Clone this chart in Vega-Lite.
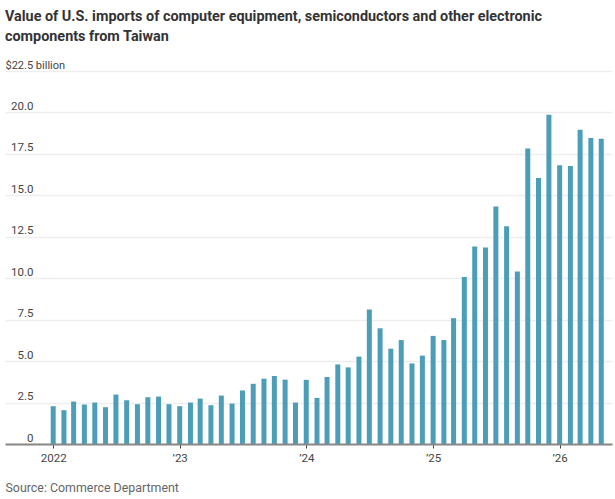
{
  "$schema": "https://vega.github.io/schema/vega-lite/v6.json",
  "description": "U.S. imports from Taiwan",
  "autosize": {"type": "none"},
  "padding": {"left": 5, "top": 71, "right": 3, "bottom": 55},
  "width": 607,
  "height": 373,
  "background": "white",
  "title": {
    "text": ["Value of U.S. imports of computer equipment, semiconductors and other electronic", "components from Taiwan"],
    "anchor": "start",
    "frame": "group",
    "font": "Roboto",
    "fontSize": 14.4,
    "fontWeight": 700,
    "color": "#333333",
    "lineHeight": 20,
    "offset": 15
  },
  "data": {
    "values": [
      {"month": "2022-01-01", "value": 2.28},
      {"month": "2022-02-01", "value": 2.04},
      {"month": "2022-03-01", "value": 2.56},
      {"month": "2022-04-01", "value": 2.38},
      {"month": "2022-05-01", "value": 2.5},
      {"month": "2022-06-01", "value": 2.22},
      {"month": "2022-07-01", "value": 2.98},
      {"month": "2022-08-01", "value": 2.64},
      {"month": "2022-09-01", "value": 2.4},
      {"month": "2022-10-01", "value": 2.82},
      {"month": "2022-11-01", "value": 2.86},
      {"month": "2022-12-01", "value": 2.4},
      {"month": "2023-01-01", "value": 2.28},
      {"month": "2023-02-01", "value": 2.5},
      {"month": "2023-03-01", "value": 2.74},
      {"month": "2023-04-01", "value": 2.34},
      {"month": "2023-05-01", "value": 2.92},
      {"month": "2023-06-01", "value": 2.44},
      {"month": "2023-07-01", "value": 3.23},
      {"month": "2023-08-01", "value": 3.63},
      {"month": "2023-09-01", "value": 3.94},
      {"month": "2023-10-01", "value": 4.1},
      {"month": "2023-11-01", "value": 3.88},
      {"month": "2023-12-01", "value": 2.5},
      {"month": "2024-01-01", "value": 3.87},
      {"month": "2024-02-01", "value": 2.78},
      {"month": "2024-03-01", "value": 4.04},
      {"month": "2024-04-01", "value": 4.8},
      {"month": "2024-05-01", "value": 4.62},
      {"month": "2024-06-01", "value": 5.27},
      {"month": "2024-07-01", "value": 8.11},
      {"month": "2024-08-01", "value": 6.98},
      {"month": "2024-09-01", "value": 5.75},
      {"month": "2024-10-01", "value": 6.27},
      {"month": "2024-11-01", "value": 4.86},
      {"month": "2024-12-01", "value": 5.33},
      {"month": "2025-01-01", "value": 6.52},
      {"month": "2025-02-01", "value": 6.27},
      {"month": "2025-03-01", "value": 7.59},
      {"month": "2025-04-01", "value": 10.07},
      {"month": "2025-05-01", "value": 11.91},
      {"month": "2025-06-01", "value": 11.85},
      {"month": "2025-07-01", "value": 14.33},
      {"month": "2025-08-01", "value": 13.13},
      {"month": "2025-09-01", "value": 10.41},
      {"month": "2025-10-01", "value": 17.82},
      {"month": "2025-11-01", "value": 16.04},
      {"month": "2025-12-01", "value": 19.86},
      {"month": "2026-01-01", "value": 16.81},
      {"month": "2026-02-01", "value": 16.77},
      {"month": "2026-03-01", "value": 18.95},
      {"month": "2026-04-01", "value": 18.46},
      {"month": "2026-05-01", "value": 18.42}
    ]
  },
  "mark": {"type": "bar", "width": 5, "color": "#4c9db8"},
  "encoding": {
    "x": {
      "field": "month",
      "type": "temporal",
      "scale": {"type": "utc", "domain": ["2021-08-15", "2026-06-01"], "padding": 0},
      "axis": {
        "zindex": 1,
        "grid": false,
        "tickCount": "year",
        "labelExpr": "utcyear(datum.value) == 2022 ? '2022' : '’' + utcFormat(datum.value, '%y')",
        "labelFont": "Roboto",
        "labelFontSize": 11.5,
        "labelColor": "#444444",
        "labelPadding": 4,
        "labelFlush": false,
        "domainColor": "#888888",
        "domainWidth": 2,
        "tickColor": "#444444",
        "tickSize": 4,
        "title": "Source: Commerce Department",
        "titleFont": "Roboto",
        "titleFontSize": 12.4,
        "titleFontWeight": 400,
        "titleColor": "#666666",
        "titleAnchor": "start",
        "titleAlign": "left",
        "titleBaseline": "alphabetic",
        "titleX": 0,
        "titleY": 47
      }
    },
    "y": {
      "field": "value",
      "type": "quantitative",
      "scale": {"domain": [0, 22.5], "nice": false},
      "axis": {
        "values": [0, 2.5, 5, 7.5, 10, 12.5, 15, 17.5, 20, 22.5],
        "labelExpr": "datum.value == 0 ? '0' : datum.value == 22.5 ? '' : format(datum.value, '.1f')",
        "labelFont": "Roboto",
        "labelFontSize": 11.5,
        "labelColor": "#444444",
        "labelPadding": -28,
        "labelBaseline": "alphabetic",
        "labelOffset": -3,
        "ticks": false,
        "domain": false,
        "grid": true,
        "gridColor": "#eeeeee",
        "gridWidth": 1.5,
        "title": "$22.5 billion",
        "titleFont": "Roboto",
        "titleFontSize": 11,
        "titleFontWeight": 400,
        "titleColor": "#444444",
        "titleAngle": 0,
        "titleAlign": "left",
        "titleBaseline": "alphabetic",
        "titleX": 0,
        "titleY": -3
      }
    }
  },
  "config": {"view": {"stroke": null}}
}
